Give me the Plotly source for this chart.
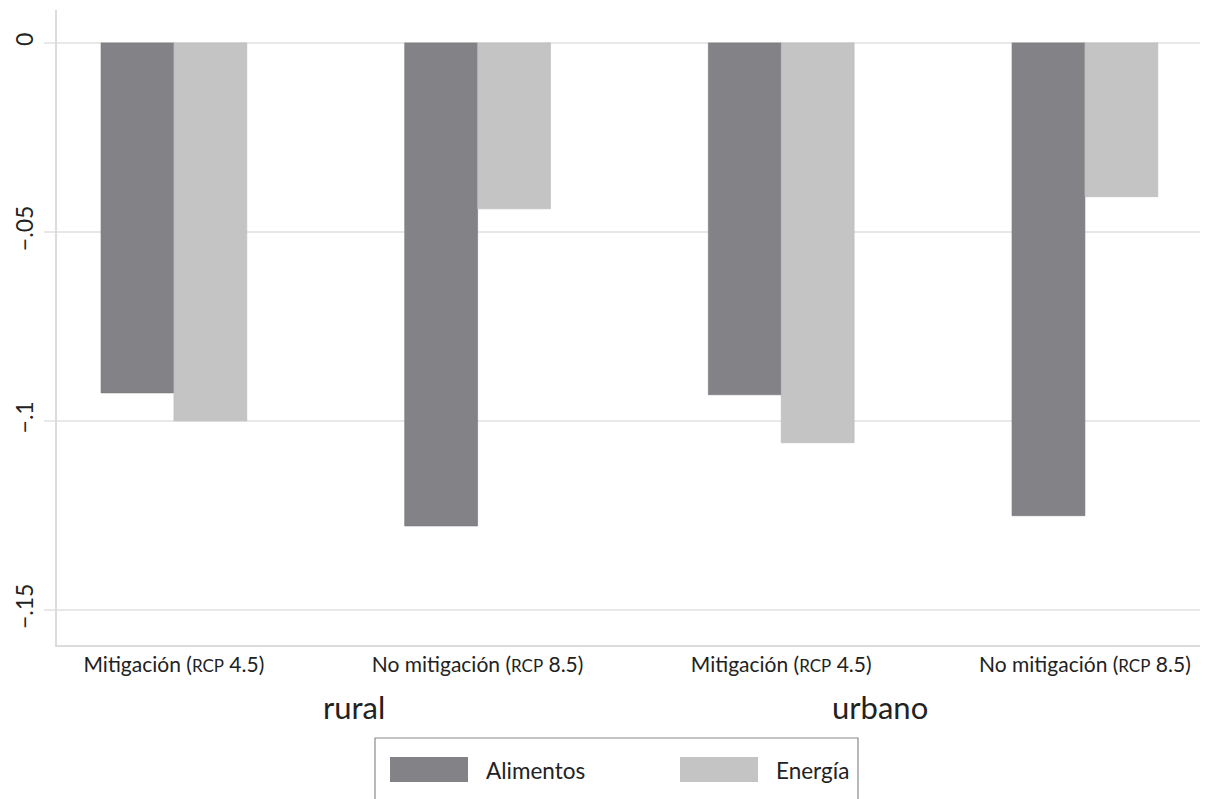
import plotly.graph_objects as go

groups = ["rural", "urbano"]
scenarios = ["Mitigación (RCP 4.5)", "No mitigación (RCP 8.5)"]
tick_text = [
    "Mitigación (<span style='font-size:17px'>RCP</span> 4.5)",
    "No mitigación (<span style='font-size:17px'>RCP</span> 8.5)",
    "Mitigación (<span style='font-size:17px'>RCP</span> 4.5)",
    "No mitigación (<span style='font-size:17px'>RCP</span> 8.5)",
]
alimentos = [-0.0926, -0.1278, -0.0931, -0.1251]
energia = [-0.1000, -0.0439, -0.1058, -0.0407]
y_ticks = [0, -0.05, -0.1, -0.15]
y_tick_text = ["0", "−.05", "−.1", "−.15"]

FONT = "Lato, 'Open Sans', sans-serif"
C_ALI = "#838287"
C_ENE = "#c4c4c4"
GRID = "#e8e8e8"

xpos = list(range(len(alimentos)))

# page offset (body margin) and figure geometry
OFF = 8
W, H = 1209, 791
L, R, T, B = 49, 17, 2, 154
pw, ph = W - L - R, H - T - B


def px(x):
    return (x - OFF - L) / pw


def py(y):
    return (H - B - (y - OFF)) / ph


fig = go.Figure()
fig.add_trace(go.Bar(x=xpos, y=alimentos, name="Alimentos",
                     marker=dict(color=C_ALI, line=dict(width=0.6, color="#77767b"))))
fig.add_trace(go.Bar(x=xpos, y=energia, name="Energía",
                     marker=dict(color=C_ENE, line=dict(width=0.6, color="#b8b8b8"))))

fig.update_layout(
    width=W, height=H,
    margin=dict(l=L, r=R, t=T, b=B),
    paper_bgcolor="white", plot_bgcolor="white",
    barmode="group", bargap=0.52, bargroupgap=0,
    showlegend=False,
    font=dict(family=FONT, color="#222222", size=16),
)
fig.update_xaxes(
    range=[-0.385, 3.379], tickvals=xpos, ticktext=tick_text, automargin=False,
    showgrid=False, zeroline=False, showline=True, linecolor="#dcdcdc", linewidth=1.5,
    ticks="", tickfont=dict(size=21, family=FONT, color="#222222"),
)
fig.update_yaxes(
    range=[-0.1593, 0.0087], tickvals=y_ticks, ticktext=y_tick_text, automargin=False,
    tickangle=-90, showgrid=True, gridcolor=GRID, gridwidth=1.5, zeroline=False,
    showline=True, linecolor="#dcdcdc", linewidth=1.5,
    ticks="outside", ticklen=11, tickcolor=GRID, tickwidth=1.5,
    ticklabelstandoff=2,
    tickfont=dict(size=23, family=FONT, color="#222222"),
)

# group labels
fig.add_annotation(x=px(354), y=py(707), xref="paper", yref="paper", text="rural", showarrow=False,
                   xanchor="center", yanchor="middle", font=dict(size=31, family=FONT, color="#222222"))
fig.add_annotation(x=px(880), y=py(707), xref="paper", yref="paper", text="urbano", showarrow=False,
                   xanchor="center", yanchor="middle", font=dict(size=31, family=FONT, color="#222222"))

# legend box
fig.add_shape(type="rect", xref="paper", yref="paper", x0=px(375), x1=px(858), y0=py(815), y1=py(738),
              line=dict(color="#8a8a8a", width=1.2), fillcolor="white")
fig.add_shape(type="rect", xref="paper", yref="paper", x0=px(390), x1=px(468), y0=py(782), y1=py(757),
              line=dict(width=0), fillcolor=C_ALI)
fig.add_shape(type="rect", xref="paper", yref="paper", x0=px(680), x1=px(758), y0=py(782), y1=py(757),
              line=dict(width=0), fillcolor=C_ENE)
fig.add_annotation(x=px(484), y=py(770), xref="paper", yref="paper", text="Alimentos", showarrow=False,
                   xanchor="left", yanchor="middle", font=dict(size=22.5, family=FONT, color="#222222"))
fig.add_annotation(x=px(774), y=py(770), xref="paper", yref="paper", text="Energía", showarrow=False,
                   xanchor="left", yanchor="middle", font=dict(size=22.5, family=FONT, color="#222222"))

fig.write_html("out.html")
